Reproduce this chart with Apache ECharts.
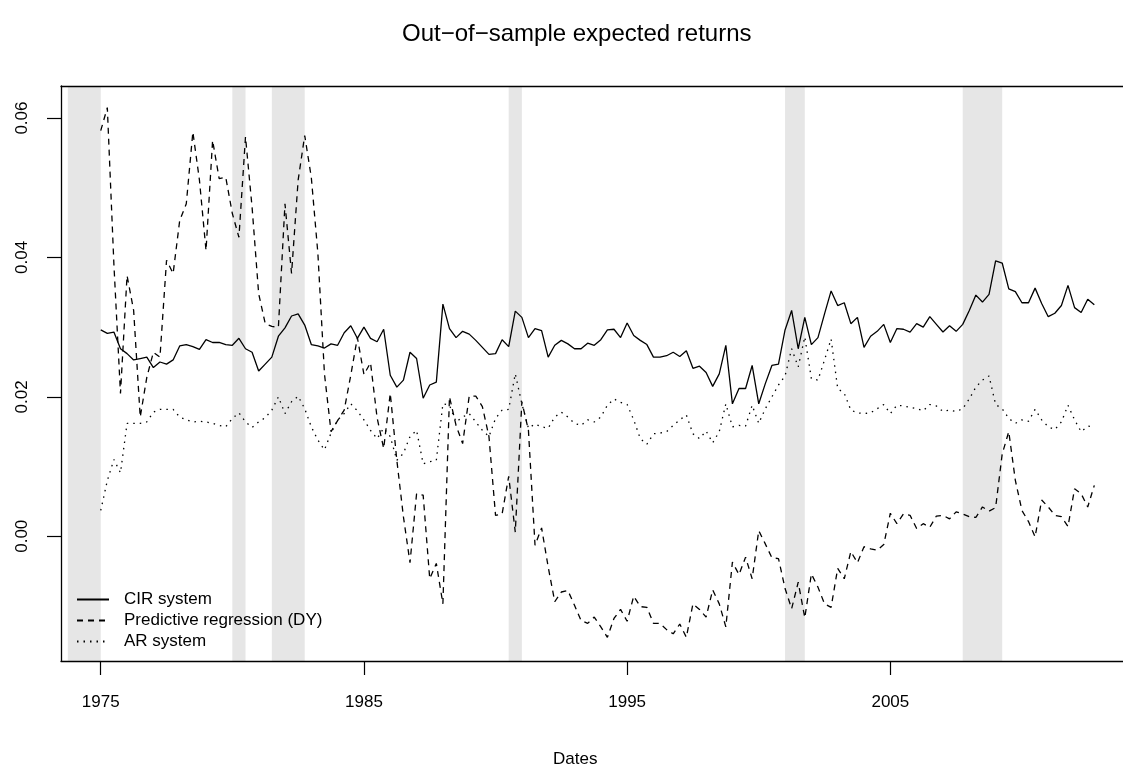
<!DOCTYPE html>
<html>
<head>
<meta charset="utf-8">
<script src="https://cdn.jsdelivr.net/npm/echarts@6/dist/echarts.min.js"></script>
<style>
html, body { margin: 0; padding: 0; background: #fff; }
#chart { width: 1123px; height: 768px; }
</style>
</head>
<body>
<div id="chart"></div>
<script>
// quarterly dates, 1975Q1 .. 2012Q4
var startYear = 1975;
var nQuarters = 152;
var dates = [];
for (var q = 0; q < nQuarters; q++) {
    dates.push(startYear + q / 4);
}

var cir = [
    0.0296, 0.0291, 0.0293, 0.0269, 0.0262, 0.0253, 0.0255, 0.0257, 0.0242, 0.0250,
    0.0247, 0.0253, 0.0273, 0.0275, 0.0272, 0.0268, 0.0282, 0.0278, 0.0278, 0.0275,
    0.0274, 0.0284, 0.0269, 0.0264, 0.0237, 0.0247, 0.0257, 0.0287, 0.0299, 0.0316,
    0.0319, 0.0303, 0.0275, 0.0273, 0.0270, 0.0276, 0.0274, 0.0292, 0.0302, 0.0284,
    0.0300, 0.0284, 0.0279, 0.0297, 0.0231, 0.0214, 0.0224, 0.0264, 0.0255, 0.0198,
    0.0217, 0.0221, 0.0333, 0.0298, 0.0285, 0.0294, 0.0290, 0.0281, 0.0271, 0.0261,
    0.0262, 0.0282, 0.0272, 0.0323, 0.0314, 0.0285, 0.0298, 0.0295, 0.0257, 0.0274,
    0.0281, 0.0276, 0.0269, 0.0269, 0.0277, 0.0274, 0.0282, 0.0296, 0.0297, 0.0285,
    0.0306, 0.0288, 0.0281, 0.0275, 0.0257, 0.0257, 0.0259, 0.0264, 0.0258, 0.0266,
    0.0241, 0.0244, 0.0235, 0.0215, 0.0233, 0.0274, 0.0190, 0.0212, 0.0212, 0.0245,
    0.0190, 0.0219, 0.0245, 0.0247, 0.0296, 0.0324, 0.0269, 0.0314, 0.0275, 0.0285,
    0.0319, 0.0352, 0.0331, 0.0335, 0.0305, 0.0314, 0.0271, 0.0287, 0.0294, 0.0304,
    0.0278, 0.0298, 0.0297, 0.0293, 0.0305, 0.0300, 0.0315, 0.0304, 0.0293, 0.0302,
    0.0294, 0.0304, 0.0324, 0.0346, 0.0336, 0.0347, 0.0395, 0.0392, 0.0355, 0.0351,
    0.0335, 0.0335, 0.0356, 0.0334, 0.0315, 0.0320, 0.0331, 0.0360, 0.0328, 0.0321,
    0.0340, 0.0332
];

var dy = [
    0.0582, 0.0615, 0.0390, 0.0205, 0.0374, 0.0324, 0.0171, 0.0228, 0.0264, 0.0257,
    0.0396, 0.0377, 0.0453, 0.0477, 0.0580, 0.0511, 0.0410, 0.0568, 0.0513, 0.0515,
    0.0463, 0.0429, 0.0573, 0.0472, 0.0348, 0.0305, 0.0301, 0.0300, 0.0477, 0.0377,
    0.0511, 0.0575, 0.0515, 0.0406, 0.0233, 0.0150, 0.0166, 0.0181, 0.0231, 0.0285,
    0.0232, 0.0249, 0.0170, 0.0126, 0.0205, 0.0109, 0.0028, -0.0038, 0.0061, 0.0059,
    -0.0061, -0.0039, -0.0097, 0.0200, 0.0159, 0.0133, 0.0201, 0.0201, 0.0186, 0.0143,
    0.0030, 0.0032, 0.0086, 0.0006, 0.0193, 0.0152, -0.0013, 0.0012, -0.0044, -0.0094,
    -0.0080, -0.0078, -0.0099, -0.0121, -0.0125, -0.0116, -0.0130, -0.0145, -0.0118, -0.0105,
    -0.0122, -0.0086, -0.0101, -0.0102, -0.0125, -0.0125, -0.0134, -0.0140, -0.0126, -0.0145,
    -0.0097, -0.0105, -0.0116, -0.0077, -0.0097, -0.0130, -0.0037, -0.0055, -0.0030, -0.0061,
    0.0008, -0.0011, -0.0031, -0.0032, -0.0075, -0.0104, -0.0066, -0.0117, -0.0054, -0.0073,
    -0.0097, -0.0102, -0.0046, -0.0061, -0.0022, -0.0038, -0.0015, -0.0018, -0.0020, -0.0012,
    0.0033, 0.0018, 0.0032, 0.0030, 0.0011, 0.0018, 0.0013, 0.0029, 0.0030, 0.0025,
    0.0035, 0.0032, 0.0028, 0.0027, 0.0042, 0.0036, 0.0041, 0.0118, 0.0150, 0.0080,
    0.0037, 0.0021, -0.0001, 0.0052, 0.0042, 0.0030, 0.0028, 0.0014, 0.0068, 0.0061,
    0.0042, 0.0073
];

var ar = [
    0.0037, 0.0080, 0.0110, 0.0091, 0.0162, 0.0162, 0.0162, 0.0164, 0.0178, 0.0182,
    0.0182, 0.0182, 0.0171, 0.0167, 0.0164, 0.0165, 0.0164, 0.0162, 0.0159, 0.0157,
    0.0169, 0.0177, 0.0164, 0.0156, 0.0164, 0.0170, 0.0181, 0.0200, 0.0176, 0.0193,
    0.0201, 0.0183, 0.0157, 0.0138, 0.0124, 0.0148, 0.0167, 0.0176, 0.0190, 0.0180,
    0.0167, 0.0152, 0.0140, 0.0155, 0.0143, 0.0109, 0.0119, 0.0143, 0.0152, 0.0104,
    0.0107, 0.0109, 0.0190, 0.0188, 0.0164, 0.0171, 0.0176, 0.0164, 0.0152, 0.0143,
    0.0169, 0.0181, 0.0182, 0.0233, 0.0190, 0.0155, 0.0161, 0.0157, 0.0155, 0.0171,
    0.0178, 0.0171, 0.0162, 0.0159, 0.0167, 0.0164, 0.0171, 0.0188, 0.0197, 0.0192,
    0.0189, 0.0167, 0.0140, 0.0132, 0.0147, 0.0148, 0.0150, 0.0159, 0.0167, 0.0174,
    0.0147, 0.0140, 0.0151, 0.0134, 0.0150, 0.0190, 0.0157, 0.0159, 0.0158, 0.0188,
    0.0162, 0.0183, 0.0200, 0.0217, 0.0230, 0.0269, 0.0243, 0.0286, 0.0226, 0.0224,
    0.0253, 0.0283, 0.0212, 0.0205, 0.0181, 0.0177, 0.0176, 0.0177, 0.0183, 0.0189,
    0.0176, 0.0188, 0.0187, 0.0185, 0.0183, 0.0180, 0.0189, 0.0187, 0.0179, 0.0181,
    0.0179, 0.0183, 0.0197, 0.0214, 0.0224, 0.0230, 0.0189, 0.0183, 0.0169, 0.0162,
    0.0167, 0.0165, 0.0182, 0.0167, 0.0157, 0.0153, 0.0164, 0.0188, 0.0167, 0.0150,
    0.0158, 0.0157
];

// recession shading
var bandStart = [1973.75, 1980.0, 1981.5, 1990.5, 2001.0, 2007.75];
var bandEnd = [1975.0, 1980.5, 1982.75, 1991.0, 2001.75, 2009.25];

var xTicks = [1975, 1985, 1995, 2005];
var yTicks = [0, 0.02, 0.04, 0.06];

var seriesNames = ['CIR system', 'Predictive regression (DY)', 'AR system'];

function pairs(vals) {
    return vals.map(function (v, i) { return [dates[i], v]; });
}

var fontFam = '"Liberation Sans", Arial, Helvetica, sans-serif';
var boxLine = {show: true, onZero: false, lineStyle: {color: '#000', width: 1.3}};

var option = {
    animation: false,
    backgroundColor: '#ffffff',
    textStyle: {fontFamily: fontFam},
    title: [
        {
            text: 'Out\u2212of\u2212sample expected returns',
            left: 402, top: 22, padding: 0,
            textStyle: {fontSize: 24, fontWeight: 'normal', color: '#000', fontFamily: fontFam}
        },
        {
            text: 'Dates',
            left: 553, top: 751, padding: 0,
            textStyle: {fontSize: 17, fontWeight: 'normal', color: '#000', fontFamily: fontFam}
        }
    ],
    legend: {
        orient: 'vertical',
        left: 71, top: 584,
        itemWidth: 32, itemHeight: 14, itemGap: 0,
        itemStyle: {opacity: 0},
        textStyle: {fontSize: 17, color: '#000', lineHeight: 21, padding: [0, 0, 0, 10], fontFamily: fontFam},
        data: seriesNames
    },
    grid: {left: 61, top: 86, right: 0, height: 575, show: false},
    xAxis: [
        {
            type: 'value', min: 1973.49, max: 2013.84, position: 'bottom', z: 10,
            axisLine: boxLine,
            splitLine: {show: false},
            axisTick: {show: true, customValues: xTicks, length: 14, lineStyle: {color: '#000', width: 1.2}},
            axisLabel: {
                customValues: xTicks, margin: 33, fontSize: 17, color: '#000', fontFamily: fontFam,
                formatter: function (v) { return String(v); }
            }
        },
        {
            type: 'value', min: 1973.49, max: 2013.84, position: 'top', z: 10,
            axisLine: boxLine,
            splitLine: {show: false},
            axisTick: {show: false},
            axisLabel: {show: false}
        }
    ],
    yAxis: {
        type: 'value', min: -0.0179, max: 0.0646, position: 'left', z: 10,
        axisLine: boxLine,
        splitLine: {show: false},
        axisTick: {show: true, customValues: yTicks, length: 14, lineStyle: {color: '#000', width: 1.2}},
        axisLabel: {
            customValues: yTicks, rotate: 90, margin: 30, fontSize: 17, color: '#000', fontFamily: fontFam,
            formatter: function (v) { return v.toFixed(2); }
        }
    },
    series: [
        {
            name: 'bands', type: 'line', data: [], z: 1, silent: true,
            markArea: {
                silent: true,
                itemStyle: {color: '#e6e6e6'},
                data: bandStart.map(function (s, k) { return [{xAxis: s}, {xAxis: bandEnd[k]}]; })
            }
        },
        {
            name: seriesNames[0], type: 'line', data: pairs(cir), z: 3,
            symbol: 'none', color: '#000',
            lineStyle: {color: '#000', width: 1.3, type: 'solid'}
        },
        {
            name: seriesNames[1], type: 'line', data: pairs(dy), z: 3,
            symbol: 'none', color: '#000',
            lineStyle: {color: '#000', width: 1.3, type: [6, 5]}
        },
        {
            name: seriesNames[2], type: 'line', data: pairs(ar), z: 3,
            symbol: 'none', color: '#000',
            lineStyle: {color: '#000', width: 1.3, type: [1.5, 5]}
        }
    ]
};

var chart = echarts.init(document.getElementById('chart'));
chart.setOption(option);
</script>
</body>
</html>
